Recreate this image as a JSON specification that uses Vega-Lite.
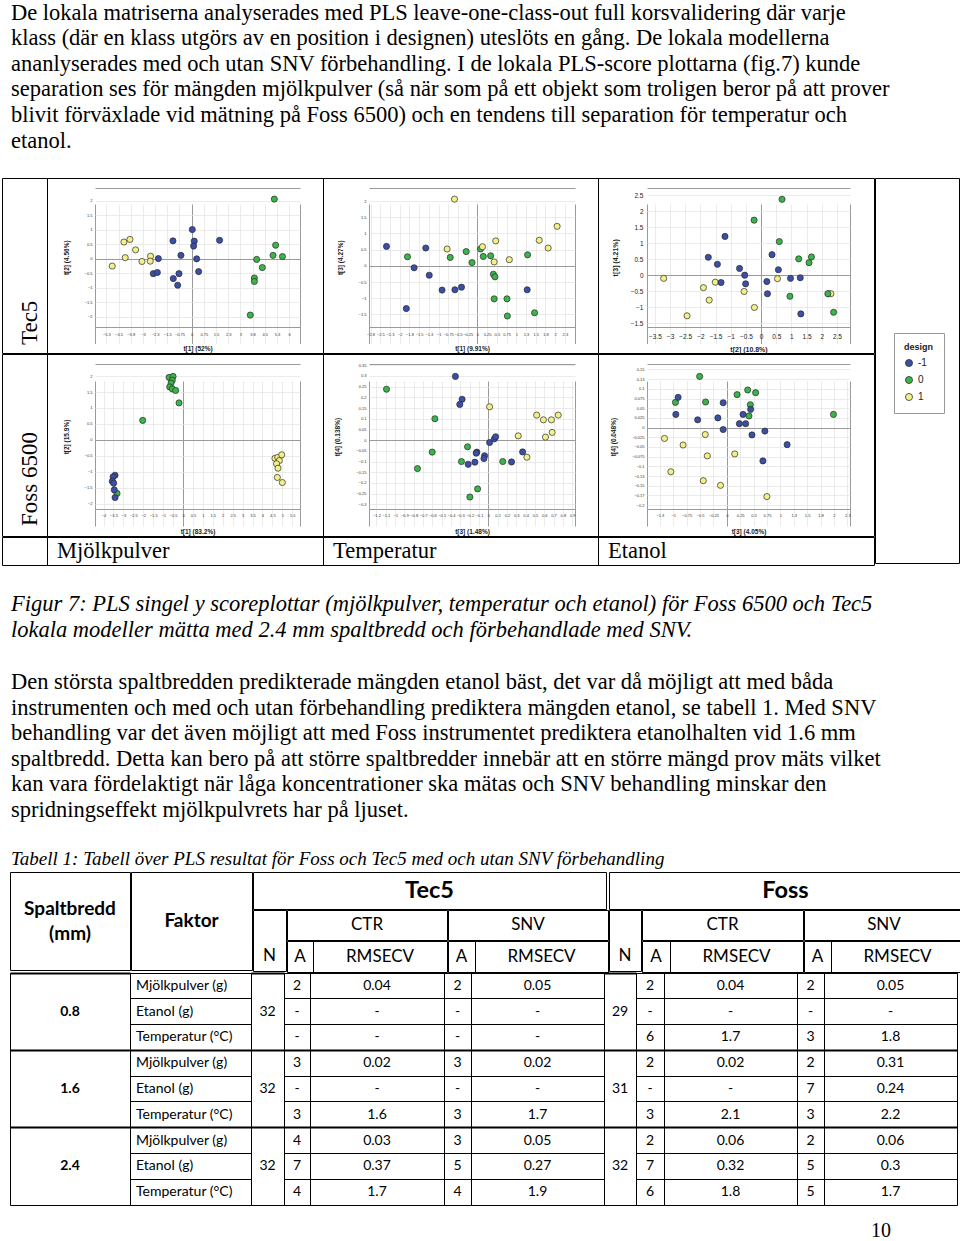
{
"$schema":"https://vega.github.io/schema/vega-lite/v6.json",
"padding":{"left":1,"top":0,"right":0,"bottom":0},
"background":"#ffffff",
"config":{"view":{"stroke":null},"font":"Liberation Sans",
 "legend":{"titleFont":"Liberation Sans","titleFontSize":9,"titleFontWeight":"bold","titleColor":"#222","labelFont":"Liberation Sans","labelFontSize":10,"labelColor":"#222","symbolType":"circle","symbolSize":50,"symbolStrokeColor":"#333","symbolStrokeWidth":0.8,"strokeColor":"#999","fillColor":"#ffffff","padding":10,"rowPadding":5,"titlePadding":6}},
"datasets":{
 "tab":[
  {"r":1,"faktor":"Mjölkpulver (g)","tCA":"2","tCR":"0.04","tSA":"2","tSR":"0.05","fCA":"2","fCR":"0.04","fSA":"2","fSR":"0.05"},
  {"r":2,"faktor":"Etanol (g)","tCA":"-","tCR":"-","tSA":"-","tSR":"-","fCA":"-","fCR":"-","fSA":"-","fSR":"-"},
  {"r":3,"faktor":"Temperatur (°C)","tCA":"-","tCR":"-","tSA":"-","tSR":"-","fCA":"6","fCR":"1.7","fSA":"3","fSR":"1.8"},
  {"r":4,"faktor":"Mjölkpulver (g)","tCA":"3","tCR":"0.02","tSA":"3","tSR":"0.02","fCA":"2","fCR":"0.02","fSA":"2","fSR":"0.31"},
  {"r":5,"faktor":"Etanol (g)","tCA":"-","tCR":"-","tSA":"-","tSR":"-","fCA":"-","fCR":"-","fSA":"7","fSR":"0.24"},
  {"r":6,"faktor":"Temperatur (°C)","tCA":"3","tCR":"1.6","tSA":"3","tSR":"1.7","fCA":"3","fCR":"2.1","fSA":"3","fSR":"2.2"},
  {"r":7,"faktor":"Mjölkpulver (g)","tCA":"4","tCR":"0.03","tSA":"3","tSR":"0.05","fCA":"2","fCR":"0.06","fSA":"2","fSR":"0.06"},
  {"r":8,"faktor":"Etanol (g)","tCA":"7","tCR":"0.37","tSA":"5","tSR":"0.27","fCA":"7","fCR":"0.32","fSA":"5","fSR":"0.3"},
  {"r":9,"faktor":"Temperatur (°C)","tCA":"4","tCR":"1.7","tSA":"4","tSR":"1.9","fCA":"6","fCR":"1.8","fSA":"5","fSR":"1.7"}
 ],
 "grp":[{"g":1,"sp":"0.8","tN":"32","fN":"29"},{"g":2,"sp":"1.6","tN":"32","fN":"31"},{"g":3,"sp":"2.4","tN":"32","fN":"32"}]
},
"spacing":0,
"bounds":"full",
"vconcat":[
{"width":940,"height":177,
 "data":{"values":[
  {"i":1,"t":"De lokala matriserna analyserades med PLS leave-one-class-out full korsvalidering där varje"},
  {"i":2,"t":"klass (där en klass utgörs av en position i designen) uteslöts en gång. De lokala modellerna"},
  {"i":3,"t":"ananlyserades med och utan SNV förbehandling. I de lokala PLS-score plottarna (fig.7) kunde"},
  {"i":4,"t":"separation ses för mängden mjölkpulver (så när som på ett objekt som troligen beror på att prover"},
  {"i":5,"t":"blivit förväxlade vid mätning på Foss 6500) och en tendens till separation för temperatur och"},
  {"i":6,"t":"etanol."}]},
 "mark":{"type":"text","align":"left","baseline":"middle","font":"Liberation Serif","fontSize":22.5,"dx":9,"color":"#000"},
 "encoding":{"x":{"datum":0,"type":"quantitative","scale":{"domain":[0,1]},"axis":null},
  "y":{"field":"i","type":"ordinal","scale":{"type":"point","range":[12.5,140.5],"padding":0},"axis":null},
  "text":{"field":"t"}}},
{"hconcat":[
 {"vconcat":[
  {"hconcat":[
   {"width":45,"height":175,"view":{"stroke":"#000","strokeWidth":1},"data":{"values":[{"t":"Tec5"}]},
    "mark":{"type":"text","angle":270,"align":"left","baseline":"middle","font":"Liberation Serif","fontSize":23,"dx":8,"dy":5,"color":"#000"},
    "encoding":{"y":{"datum":0,"type":"quantitative","scale":{"domain":[0,1]},"axis":null},"text":{"field":"t"}}},
   {"width":276,"height":175,"view":{"stroke":"#000","strokeWidth":1},
    "data":{"values":[{"x":-4.89,"y":-0.26,"d":1},{"x":-4.17,"y":0.57,"d":1},{"x":-3.8,"y":0.66,"d":1},{"x":-4.09,"y":0.03,"d":1},{"x":-3.45,"y":0.3,"d":1},{"x":-3.06,"y":-0.1,"d":1},{"x":-2.53,"y":0.08,"d":1},{"x":-2.55,"y":-0.09,"d":1},
     {"x":-2.05,"y":0,"d":-1},{"x":-2.36,"y":-0.52,"d":-1},{"x":-2.11,"y":-0.48,"d":-1},{"x":-1.13,"y":-0.69,"d":-1},{"x":-0.86,"y":-0.92,"d":-1},{"x":-0.78,"y":-0.52,"d":-1},{"x":-0.66,"y":0.11,"d":-1},{"x":-1.15,"y":0.61,"d":-1},{"x":0.04,"y":1,"d":-1},{"x":0.16,"y":0.6,"d":-1},{"x":0.12,"y":0.43,"d":-1},{"x":0.31,"y":-0.01,"d":-1},{"x":0.43,"y":-0.45,"d":-1},{"x":1.72,"y":0.63,"d":-1},
     {"x":5.09,"y":2.05,"d":0},{"x":5.17,"y":0.46,"d":0},{"x":5.01,"y":0.11,"d":0},{"x":5.59,"y":0.07,"d":0},{"x":4,"y":-0.03,"d":0},{"x":4.35,"y":-0.31,"d":0},{"x":3.86,"y":-0.67,"d":0},{"x":3.86,"y":-0.79,"d":0},{"x":3.61,"y":-1.95,"d":0}]},
    "mark":{"type":"circle","size":38,"opacity":1,"stroke":"#2a2a2a","strokeWidth":0.7},
    "encoding":{
     "x":{"field":"x","type":"quantitative","scale":{"domain":[-5.95,6.67],"range":[48,253],"nice":false,"zero":false},
      "axis":{"title":"t[1] (52%)","values":[-5.95,-5.25,-4.5,-3.75,-3,-2.25,-1.5,-0.75,0,0.75,1.5,2.25,3,3.75,4.5,5.25,6,6.67],"format":"~g","labelExpr":"datum.value === -5.95 || datum.value === 6.67 ? '' : datum.label","offset":-26,"domain":false,"ticks":false,"labelFontSize":4,"labelPadding":5,"labelColor":"#333","labelOverlap":false,"labelFlush":false,"grid":true,"gridColor":{"condition":{"test":"datum.value === 0 || datum.value === -5.95 || datum.value === 6.67","value":"#9a9a9a"},"value":"#e2e2e2"},"gridWidth":{"condition":{"test":"datum.value === 0 || datum.value === -5.95 || datum.value === 6.67","value":1},"value":0.7},"titleFontSize":6.5,"titleFontWeight":"bold","titleColor":"#222","titlePadding":9}},
     "y":{"field":"y","type":"quantitative","scale":{"domain":[-2.36,2.45],"range":[149,9.5],"nice":false,"zero":false},
      "axis":{"title":"t[2] (4.56%)","values":[-2.36,-2,-1.5,-1,-0.5,0,0.5,1,1.5,2,2.45],"format":"~g","labelExpr":"datum.value === -2.36 || datum.value === 2.45 ? '' : datum.label","offset":-48,"domain":false,"ticks":false,"labelFontSize":4,"labelPadding":3,"labelColor":"#333","labelOverlap":false,"labelFlush":false,"grid":true,"gridColor":{"condition":{"test":"datum.value === 0 || datum.value === -2.36 || datum.value === 2.45","value":"#9a9a9a"},"value":"#e2e2e2"},"gridWidth":{"condition":{"test":"datum.value === 0 || datum.value === -2.36 || datum.value === 2.45","value":1},"value":0.7},"titleFontSize":6.5,"titleFontWeight":"bold","titleColor":"#222","titlePadding":15}},
     "color":{"field":"d","type":"nominal","scale":{"domain":[-1,0,1],"range":["#3a4fa5","#3bb44a","#f3f089"]},"legend":{"title":"design","orient":"none","legendX":892,"legendY":333}}}},
   {"width":275,"height":175,"view":{"stroke":"#000","strokeWidth":1},
    "data":{"values":[{"x":-2.34,"y":0.6,"d":-1},{"x":-1.33,"y":0.55,"d":-1},{"x":-1.63,"y":-0.06,"d":-1},{"x":-1.24,"y":-0.29,"d":-1},{"x":-1.83,"y":-1.32,"d":-1},{"x":-0.91,"y":-0.75,"d":-1},{"x":-0.58,"y":-0.74,"d":-1},{"x":-0.41,"y":-0.66,"d":-1},{"x":1.28,"y":-0.74,"d":-1},
     {"x":-1.8,"y":0.28,"d":0},{"x":-0.7,"y":0.26,"d":0},{"x":-0.29,"y":0.44,"d":0},{"x":-0.14,"y":0.1,"d":0},{"x":0.08,"y":0.52,"d":0},{"x":0.15,"y":0.29,"d":0},{"x":0.34,"y":0.31,"d":0},{"x":0.41,"y":-0.26,"d":0},{"x":0.45,"y":-0.34,"d":0},{"x":0.43,"y":-1.02,"d":0},{"x":0.76,"y":-1.02,"d":0},{"x":0.77,"y":-1.55,"d":0},{"x":1.29,"y":0.34,"d":0},{"x":1.47,"y":-1.45,"d":0},
     {"x":-0.59,"y":2.06,"d":1},{"x":-0.78,"y":0.52,"d":1},{"x":0.13,"y":0.59,"d":1},{"x":0.47,"y":0.77,"d":1},{"x":0.43,"y":0.12,"d":1},{"x":0.82,"y":0.19,"d":1},{"x":1.59,"y":0.79,"d":1},{"x":1.82,"y":0.55,"d":1},{"x":2.05,"y":1.22,"d":1}]},
    "mark":{"type":"circle","size":38,"opacity":1,"stroke":"#2a2a2a","strokeWidth":0.7},
    "encoding":{
     "x":{"field":"x","type":"quantitative","scale":{"domain":[-2.79,2.51],"range":[46,252],"nice":false,"zero":false},
      "axis":{"title":"t[1] (9.91%)","values":[-2.79,-2.75,-2.5,-2.25,-2,-1.75,-1.5,-1.25,-1,-0.75,-0.5,-0.25,0,0.25,0.5,0.75,1,1.25,1.5,1.75,2,2.25,2.51],"format":"~g","labelExpr":"datum.value === -2.79 || datum.value === 2.51 ? '' : datum.label","offset":-26,"domain":false,"ticks":false,"labelFontSize":4,"labelPadding":5,"labelColor":"#333","labelOverlap":false,"labelFlush":false,"grid":true,"gridColor":{"condition":{"test":"datum.value === 0 || datum.value === -2.79 || datum.value === 2.51","value":"#9a9a9a"},"value":"#e2e2e2"},"gridWidth":{"condition":{"test":"datum.value === 0 || datum.value === -2.79 || datum.value === 2.51","value":1},"value":0.7},"titleFontSize":6.5,"titleFontWeight":"bold","titleColor":"#222","titlePadding":9}},
     "y":{"field":"y","type":"quantitative","scale":{"domain":[-1.89,2.42],"range":[149,9.5],"nice":false,"zero":false},
      "axis":{"title":"t[3] (4.27%)","values":[-1.89,-1.5,-1,-0.5,0,0.5,1,1.5,2,2.42],"format":"~g","labelExpr":"datum.value === -1.89 || datum.value === 2.42 ? '' : datum.label","offset":-46,"domain":false,"ticks":false,"labelFontSize":4,"labelPadding":3,"labelColor":"#333","labelOverlap":false,"labelFlush":false,"grid":true,"gridColor":{"condition":{"test":"datum.value === 0 || datum.value === -1.89 || datum.value === 2.42","value":"#9a9a9a"},"value":"#e2e2e2"},"gridWidth":{"condition":{"test":"datum.value === 0 || datum.value === -1.89 || datum.value === 2.42","value":1},"value":0.7},"titleFontSize":6.5,"titleFontWeight":"bold","titleColor":"#222","titlePadding":15}},
     "color":{"field":"d","type":"nominal","scale":{"domain":[-1,0,1],"range":["#3a4fa5","#3bb44a","#f3f089"]},"legend":{"title":"design","orient":"none","legendX":892,"legendY":333}}}},
   {"width":276,"height":175,"view":{"stroke":"#000","strokeWidth":1},
    "data":{"values":[{"x":-3.21,"y":-0.09,"d":1},{"x":-2.44,"y":-1.26,"d":1},{"x":-1.9,"y":-0.38,"d":1},{"x":-1.71,"y":-0.77,"d":1},{"x":-1.51,"y":-0.21,"d":1},{"x":-0.56,"y":-0.5,"d":1},{"x":-0.22,"y":-1,"d":1},{"x":0.54,"y":-0.1,"d":1},{"x":2.22,"y":-0.57,"d":1},{"x":2.3,"y":-0.57,"d":1},
     {"x":-1.19,"y":1.22,"d":-1},{"x":-1.74,"y":0.57,"d":-1},{"x":-1.44,"y":0.35,"d":-1},{"x":-1.32,"y":-0.22,"d":-1},{"x":-0.71,"y":0.22,"d":-1},{"x":-0.54,"y":0.01,"d":-1},{"x":-0.51,"y":-0.26,"d":-1},{"x":0.19,"y":-0.19,"d":-1},{"x":0.21,"y":-0.57,"d":-1},{"x":0.36,"y":0.65,"d":-1},{"x":0.57,"y":0.18,"d":-1},{"x":0.97,"y":-0.09,"d":-1},{"x":1.29,"y":-0.07,"d":-1},{"x":1.31,"y":-1.2,"d":-1},
     {"x":-0.23,"y":1.73,"d":0},{"x":0.69,"y":2.38,"d":0},{"x":0.6,"y":1.06,"d":0},{"x":1.24,"y":0.52,"d":0},{"x":1.66,"y":0.58,"d":0},{"x":1.58,"y":0.4,"d":0},{"x":0.95,"y":-0.65,"d":0},{"x":2.2,"y":-0.57,"d":0},{"x":2.39,"y":-1.15,"d":0}]},
    "mark":{"type":"circle","size":38,"opacity":1,"stroke":"#2a2a2a","strokeWidth":0.7},
    "encoding":{
     "x":{"field":"x","type":"quantitative","scale":{"domain":[-3.76,2.93],"range":[49,252],"nice":false,"zero":false},
      "axis":{"title":"t[2] (10.8%)","values":[-3.76,-3.5,-3,-2.5,-2,-1.5,-1,-0.5,0,0.5,1,1.5,2,2.5,2.93],"format":"~g","labelExpr":"datum.value === -3.76 || datum.value === 2.93 ? '' : datum.label","offset":-26,"domain":false,"ticks":false,"labelFontSize":6.5,"labelPadding":6,"labelColor":"#222","labelOverlap":false,"labelFlush":false,"grid":true,"gridColor":{"condition":{"test":"datum.value === 0 || datum.value === -3.76 || datum.value === 2.93","value":"#9a9a9a"},"value":"#e2e2e2"},"gridWidth":{"condition":{"test":"datum.value === 0 || datum.value === -3.76 || datum.value === 2.93","value":1},"value":0.7},"titleFontSize":7,"titleFontWeight":"bold","titleColor":"#222","titlePadding":6}},
     "y":{"field":"y","type":"quantitative","scale":{"domain":[-1.61,2.75],"range":[149,9.5],"nice":false,"zero":false},
      "axis":{"title":"t[3] (4.21%)","values":[-1.61,-1.5,-1,-0.5,0,0.5,1,1.5,2,2.5,2.75],"format":"~g","labelExpr":"datum.value === -1.61 || datum.value === 2.75 ? '' : datum.label","offset":-49,"domain":false,"ticks":false,"labelFontSize":6.5,"labelPadding":4,"labelColor":"#222","labelOverlap":false,"labelFlush":false,"grid":true,"gridColor":{"condition":{"test":"datum.value === 0 || datum.value === -1.61 || datum.value === 2.75","value":"#9a9a9a"},"value":"#e2e2e2"},"gridWidth":{"condition":{"test":"datum.value === 0 || datum.value === -1.61 || datum.value === 2.75","value":1},"value":0.7},"titleFontSize":7,"titleFontWeight":"bold","titleColor":"#222","titlePadding":12}},
     "color":{"field":"d","type":"nominal","scale":{"domain":[-1,0,1],"range":["#3a4fa5","#3bb44a","#f3f089"]},"legend":{"title":"design","orient":"none","legendX":892,"legendY":333}}}}
  ],"spacing":0,"bounds":"flush"},
  {"hconcat":[
   {"width":45,"height":182,"view":{"stroke":"#000","strokeWidth":1},"data":{"values":[{"t":"Foss 6500"}]},
    "mark":{"type":"text","angle":270,"align":"left","baseline":"middle","font":"Liberation Serif","fontSize":23,"dx":10,"dy":5,"color":"#000"},
    "encoding":{"y":{"datum":0,"type":"quantitative","scale":{"domain":[0,1]},"axis":null},"text":{"field":"t"}}},
   {"width":276,"height":182,"view":{"stroke":"#000","strokeWidth":1},
    "data":{"values":[{"x":-0.7,"y":1.96,"d":0},{"x":-0.5,"y":1.99,"d":0},{"x":-0.54,"y":1.87,"d":0},{"x":-0.6,"y":1.78,"d":0},{"x":-0.67,"y":1.66,"d":0},{"x":-0.54,"y":1.6,"d":0},{"x":-0.37,"y":1.55,"d":0},{"x":-0.2,"y":1.16,"d":0},{"x":-2.03,"y":0.61,"d":0},{"x":-3.32,"y":-1.68,"d":0},
     {"x":-3.42,"y":-1.11,"d":-1},{"x":-3.52,"y":-1.16,"d":-1},{"x":-3.56,"y":-1.3,"d":-1},{"x":-3.49,"y":-1.36,"d":-1},{"x":-3.46,"y":-1.57,"d":-1},{"x":-3.42,"y":-1.81,"d":-1},
     {"x":4.63,"y":-0.58,"d":1},{"x":4.77,"y":-0.55,"d":1},{"x":4.97,"y":-0.47,"d":1},{"x":4.85,"y":-0.65,"d":1},{"x":4.71,"y":-0.75,"d":1},{"x":4.78,"y":-0.89,"d":1},{"x":4.75,"y":-1.18,"d":1},{"x":5,"y":-1.34,"d":1}]},
    "mark":{"type":"circle","size":38,"opacity":1,"stroke":"#2a2a2a","strokeWidth":0.7},
    "encoding":{
     "x":{"field":"x","type":"quantitative","scale":{"domain":[-4.43,5.89],"range":[48,253],"nice":false,"zero":false},
      "axis":{"title":"t[1] (83.2%)","values":[-4.43,-4,-3.5,-3,-2.5,-2,-1.5,-1,-0.5,0,0.5,1,1.5,2,2.5,3,3.5,4,4.5,5,5.5,5.89],"format":"~g","labelExpr":"datum.value === -4.43 || datum.value === 5.89 ? '' : datum.label","offset":-27,"domain":false,"ticks":false,"labelFontSize":4,"labelPadding":4,"labelColor":"#333","labelOverlap":false,"labelFlush":false,"grid":true,"gridColor":{"condition":{"test":"datum.value === 0 || datum.value === -4.43 || datum.value === 5.89","value":"#9a9a9a"},"value":"#e2e2e2"},"gridWidth":{"condition":{"test":"datum.value === 0 || datum.value === -4.43 || datum.value === 5.89","value":1},"value":0.7},"titleFontSize":6.5,"titleFontWeight":"bold","titleColor":"#222","titlePadding":11}},
     "y":{"field":"y","type":"quantitative","scale":{"domain":[-2.17,2.38],"range":[155,10],"nice":false,"zero":false},
      "axis":{"title":"t[2] (15.9%)","values":[-2.17,-2,-1.5,-1,-0.5,0,0.5,1,1.5,2,2.38],"format":"~g","labelExpr":"datum.value === -2.17 || datum.value === 2.38 ? '' : datum.label","offset":-48,"domain":false,"ticks":false,"labelFontSize":4,"labelPadding":3,"labelColor":"#333","labelOverlap":false,"labelFlush":false,"grid":true,"gridColor":{"condition":{"test":"datum.value === 0 || datum.value === -2.17 || datum.value === 2.38","value":"#9a9a9a"},"value":"#e2e2e2"},"gridWidth":{"condition":{"test":"datum.value === 0 || datum.value === -2.17 || datum.value === 2.38","value":1},"value":0.7},"titleFontSize":6.5,"titleFontWeight":"bold","titleColor":"#222","titlePadding":15}},
     "color":{"field":"d","type":"nominal","scale":{"domain":[-1,0,1],"range":["#3a4fa5","#3bb44a","#f3f089"]},"legend":{"title":"design","orient":"none","legendX":892,"legendY":333}}}},
   {"width":275,"height":182,"view":{"stroke":"#000","strokeWidth":1},
    "data":{"values":[{"x":-0.353,"y":0.298,"d":-1},{"x":-0.281,"y":0.191,"d":-1},{"x":-0.306,"y":0.167,"d":-1},{"x":-0.123,"y":-0.056,"d":-1},{"x":-0.13,"y":-0.061,"d":-1},{"x":-0.04,"y":-0.073,"d":-1},{"x":-0.047,"y":-0.086,"d":-1},{"x":-0.144,"y":-0.103,"d":-1},{"x":-0.216,"y":-0.113,"d":-1},{"x":0.014,"y":-0.011,"d":-1},{"x":0.065,"y":0.006,"d":-1},{"x":0.079,"y":0.016,"d":-1},{"x":0.249,"y":-0.102,"d":-1},{"x":0.368,"y":-0.055,"d":-1},
     {"x":-1.092,"y":0.238,"d":0},{"x":-0.573,"y":0.1,"d":0},{"x":-0.602,"y":-0.056,"d":0},{"x":-0.76,"y":-0.133,"d":0},{"x":-0.223,"y":-0.031,"d":0},{"x":-0.288,"y":-0.1,"d":0},{"x":0.155,"y":-0.1,"d":0},{"x":-0.115,"y":-0.228,"d":0},{"x":-0.198,"y":-0.266,"d":0},
     {"x":0.014,"y":0.156,"d":1},{"x":0.519,"y":0.117,"d":1},{"x":0.591,"y":0.095,"d":1},{"x":0.677,"y":0.095,"d":1},{"x":0.75,"y":0.117,"d":1},{"x":0.685,"y":0.036,"d":1},{"x":0.613,"y":0.014,"d":1},{"x":0.321,"y":0.02,"d":1},{"x":0.414,"y":-0.08,"d":1}]},
    "mark":{"type":"circle","size":38,"opacity":1,"stroke":"#2a2a2a","strokeWidth":0.7},
    "encoding":{
     "x":{"field":"x","type":"quantitative","scale":{"domain":[-1.28,0.93],"range":[46,252],"nice":false,"zero":false},
      "axis":{"title":"t[3] (1.48%)","values":[-1.28,-1.2,-1.1,-1,-0.9,-0.8,-0.7,-0.6,-0.5,-0.4,-0.3,-0.2,-0.1,0,0.1,0.2,0.3,0.4,0.5,0.6,0.7,0.8,0.9,0.93],"format":"~g","labelExpr":"datum.value === -1.28 || datum.value === 0.93 ? '' : datum.label","offset":-27,"domain":false,"ticks":false,"labelFontSize":4,"labelPadding":4,"labelColor":"#333","labelOverlap":false,"labelFlush":false,"grid":true,"gridColor":{"condition":{"test":"datum.value === 0 || datum.value === -1.28 || datum.value === 0.93","value":"#9a9a9a"},"value":"#e2e2e2"},"gridWidth":{"condition":{"test":"datum.value === 0 || datum.value === -1.28 || datum.value === 0.93","value":1},"value":0.7},"titleFontSize":6.5,"titleFontWeight":"bold","titleColor":"#222","titlePadding":11}},
     "y":{"field":"y","type":"quantitative","scale":{"domain":[-0.322,0.356],"range":[155,10],"nice":false,"zero":false},
      "axis":{"title":"t[4] (0.138%)","values":[-0.322,-0.3,-0.25,-0.2,-0.15,-0.1,-0.05,0,0.05,0.1,0.15,0.2,0.25,0.3,0.35,0.356],"format":"~g","labelExpr":"datum.value === -0.322 || datum.value === 0.356 ? '' : datum.label","offset":-46,"domain":false,"ticks":false,"labelFontSize":4,"labelPadding":3,"labelColor":"#333","labelOverlap":false,"labelFlush":false,"grid":true,"gridColor":{"condition":{"test":"datum.value === 0 || datum.value === -0.322 || datum.value === 0.356","value":"#9a9a9a"},"value":"#e2e2e2"},"gridWidth":{"condition":{"test":"datum.value === 0 || datum.value === -0.322 || datum.value === 0.356","value":1},"value":0.7},"titleFontSize":6.5,"titleFontWeight":"bold","titleColor":"#222","titlePadding":15}},
     "color":{"field":"d","type":"nominal","scale":{"domain":[-1,0,1],"range":["#3a4fa5","#3bb44a","#f3f089"]},"legend":{"title":"design","orient":"none","legendX":892,"legendY":333}}}},
   {"width":276,"height":182,"view":{"stroke":"#000","strokeWidth":1},
    "data":{"values":[{"x":-0.507,"y":0.132,"d":0},{"x":-0.959,"y":0.065,"d":0},{"x":-0.396,"y":0.066,"d":0},{"x":0.192,"y":0.085,"d":0},{"x":0.39,"y":0.097,"d":0},{"x":0.538,"y":0.09,"d":0},{"x":0.439,"y":0.059,"d":0},{"x":0.414,"y":0.03,"d":0},{"x":1.991,"y":0.034,"d":0},
     {"x":-0.909,"y":0.078,"d":-1},{"x":-0.952,"y":0.034,"d":-1},{"x":-0.544,"y":0.02,"d":-1},{"x":-0.167,"y":0.025,"d":-1},{"x":-0.068,"y":0.064,"d":-1},{"x":-0.068,"y":-0.005,"d":-1},{"x":0.303,"y":0.034,"d":-1},{"x":0.235,"y":0.01,"d":-1},{"x":0.352,"y":0.01,"d":-1},{"x":0.445,"y":0.047,"d":-1},{"x":0.47,"y":-0.019,"d":-1},{"x":0.711,"y":-0.009,"d":-1},{"x":1.126,"y":-0.044,"d":-1},{"x":0.674,"y":-0.086,"d":-1},
     {"x":-1.163,"y":-0.028,"d":1},{"x":-0.816,"y":-0.045,"d":1},{"x":-0.402,"y":-0.018,"d":1},{"x":-0.365,"y":-0.073,"d":1},{"x":0.148,"y":-0.068,"d":1},{"x":-1.045,"y":-0.114,"d":1},{"x":-0.439,"y":-0.137,"d":1},{"x":-0.118,"y":-0.149,"d":1},{"x":0.748,"y":-0.178,"d":1}]},
    "mark":{"type":"circle","size":38,"opacity":1,"stroke":"#2a2a2a","strokeWidth":0.7},
    "encoding":{
     "x":{"field":"x","type":"quantitative","scale":{"domain":[-1.49,2.3],"range":[49,252],"nice":false,"zero":false},
      "axis":{"title":"t[3] (4.05%)","values":[-1.49,-1.25,-1,-0.75,-0.5,-0.25,0,0.25,0.5,0.75,1,1.25,1.5,1.75,2,2.25,2.3],"format":"~g","labelExpr":"datum.value === -1.49 || datum.value === 2.3 ? '' : datum.label","offset":-27,"domain":false,"ticks":false,"labelFontSize":4,"labelPadding":4,"labelColor":"#333","labelOverlap":false,"labelFlush":false,"grid":true,"gridColor":{"condition":{"test":"datum.value === 0 || datum.value === -1.49 || datum.value === 2.3","value":"#9a9a9a"},"value":"#e2e2e2"},"gridWidth":{"condition":{"test":"datum.value === 0 || datum.value === -1.49 || datum.value === 2.3","value":1},"value":0.7},"titleFontSize":6.5,"titleFontWeight":"bold","titleColor":"#222","titlePadding":11}},
     "y":{"field":"y","type":"quantitative","scale":{"domain":[-0.21,0.164],"range":[155,10],"nice":false,"zero":false},
      "axis":{"title":"t[4] (0.048%)","values":[-0.21,-0.2,-0.175,-0.15,-0.125,-0.1,-0.075,-0.05,-0.025,0,0.025,0.05,0.075,0.1,0.125,0.15,0.164],"format":"~g","labelExpr":"datum.value === -0.21 || datum.value === 0.164 ? '' : datum.label","offset":-49,"domain":false,"ticks":false,"labelFontSize":4,"labelPadding":3,"labelColor":"#333","labelOverlap":false,"labelFlush":false,"grid":true,"gridColor":{"condition":{"test":"datum.value === 0 || datum.value === -0.21 || datum.value === 0.164","value":"#9a9a9a"},"value":"#e2e2e2"},"gridWidth":{"condition":{"test":"datum.value === 0 || datum.value === -0.21 || datum.value === 0.164","value":1},"value":0.7},"titleFontSize":6.5,"titleFontWeight":"bold","titleColor":"#222","titlePadding":15}},
     "color":{"field":"d","type":"nominal","scale":{"domain":[-1,0,1],"range":["#3a4fa5","#3bb44a","#f3f089"]},"legend":{"title":"design","orient":"none","legendX":892,"legendY":333}}}}
  ],"spacing":0,"bounds":"flush"},
  {"hconcat":[
   {"width":45,"height":28,"view":{"stroke":"#000","strokeWidth":1},"data":{"values":[{}]},"mark":{"type":"text","text":""}},
   {"width":276,"height":28,"view":{"stroke":"#000","strokeWidth":1},"data":{"values":[{"t":"Mjölkpulver"}]},
    "mark":{"type":"text","align":"left","baseline":"middle","font":"Liberation Serif","fontSize":22.5,"dx":10,"color":"#000"},
    "encoding":{"x":{"datum":0,"type":"quantitative","scale":{"domain":[0,1]},"axis":null},"text":{"field":"t"}}},
   {"width":275,"height":28,"view":{"stroke":"#000","strokeWidth":1},"data":{"values":[{"t":"Temperatur"}]},
    "mark":{"type":"text","align":"left","baseline":"middle","font":"Liberation Serif","fontSize":22.5,"dx":10,"color":"#000"},
    "encoding":{"x":{"datum":0,"type":"quantitative","scale":{"domain":[0,1]},"axis":null},"text":{"field":"t"}}},
   {"width":276,"height":28,"view":{"stroke":"#000","strokeWidth":1},"data":{"values":[{"t":"Etanol"}]},
    "mark":{"type":"text","align":"left","baseline":"middle","font":"Liberation Serif","fontSize":22.5,"dx":10,"color":"#000"},
    "encoding":{"x":{"datum":0,"type":"quantitative","scale":{"domain":[0,1]},"axis":null},"text":{"field":"t"}}}
  ],"spacing":0,"bounds":"flush"}
 ],"spacing":-3,"bounds":"full"},
 {"width":84,"height":385,"view":{"stroke":"#000","strokeWidth":1},"data":{"values":[{}]},"mark":{"type":"text","text":""}}
],"spacing":-3,"bounds":"full"},
{"width":940,"height":91,
 "data":{"values":[
  {"i":1,"t":"Figur 7: PLS singel y scoreplottar (mjölkpulver, temperatur och etanol) för Foss 6500 och Tec5"},
  {"i":2,"t":"lokala modeller mätta med 2.4 mm spaltbredd och förbehandlade med SNV."}]},
 "mark":{"type":"text","align":"left","baseline":"middle","font":"Liberation Serif","fontSize":22.5,"fontStyle":"italic","dx":9,"color":"#000"},
 "encoding":{"x":{"datum":0,"type":"quantitative","scale":{"domain":[0,1]},"axis":null},
  "y":{"field":"i","type":"ordinal","scale":{"type":"point","range":[38,64],"padding":0},"axis":null},
  "text":{"field":"t"}}},
{"width":940,"height":190,
 "data":{"values":[
  {"i":1,"t":"Den största spaltbredden predikterade mängden etanol bäst, det var då möjligt att med båda"},
  {"i":2,"t":"instrumenten och med och utan förbehandling prediktera mängden etanol, se tabell 1. Med SNV"},
  {"i":3,"t":"behandling var det även möjligt att med Foss instrumentet prediktera etanolhalten vid 1.6 mm"},
  {"i":4,"t":"spaltbredd. Detta kan bero på att större spaltbredder innebär att en större mängd prov mäts vilket"},
  {"i":5,"t":"kan vara fördelaktigt när låga koncentrationer ska mätas och SNV behandling minskar den"},
  {"i":6,"t":"spridningseffekt mjölkpulvrets har på ljuset."}]},
 "mark":{"type":"text","align":"left","baseline":"middle","font":"Liberation Serif","fontSize":22.5,"dx":9,"color":"#000"},
 "encoding":{"x":{"datum":0,"type":"quantitative","scale":{"domain":[0,1]},"axis":null},
  "y":{"field":"i","type":"ordinal","scale":{"type":"point","range":[25,153],"padding":0},"axis":null},
  "text":{"field":"t"}}},
{"width":940,"height":24,
 "data":{"values":[{"t":"Tabell 1: Tabell över PLS resultat för Foss och Tec5 med och utan SNV förbehandling"}]},
 "mark":{"type":"text","align":"left","baseline":"middle","font":"Liberation Serif","fontSize":19,"fontStyle":"italic","dx":9,"color":"#000"},
 "encoding":{"x":{"datum":0,"type":"quantitative","scale":{"domain":[0,1]},"axis":null},"text":{"field":"t"}}},
{"hconcat":[
 {"width":7,"height":1,"data":{"values":[]},"mark":{"type":"text"}},
 {"vconcat":[
  {"hconcat":[
   {"width":120,"height":98,"view":{"stroke":"#000"},"data":{"values":[{"t":"Spaltbredd\n(mm)"}]},"mark":{"type":"text","font":"Lato","fontSize":19,"fontWeight":"bold","lineBreak":"\n","lineHeight":25,"dy":-12.5,"color":"#000"},"encoding":{"text":{"field":"t"}}},
   {"width":121,"height":98,"view":{"stroke":"#000"},"data":{"values":[{"t":"Faktor"}]},"mark":{"type":"text","font":"Lato","fontSize":19,"fontWeight":"bold","color":"#000"},"encoding":{"text":{"field":"t"}}},
   {"vconcat":[
    {"width":353,"height":37,"view":{"stroke":"#000"},"data":{"values":[{"t":"Tec5"}]},"mark":{"type":"text","font":"Lato","fontSize":23.5,"fontWeight":"bold","color":"#000"},"encoding":{"text":{"field":"t"}}},
    {"hconcat":[
     {"width":33,"height":61,"view":{"stroke":"#000"},"data":{"values":[{"t":"\nN"}]},"mark":{"type":"text","font":"Lato","fontSize":17,"lineBreak":"\n","lineHeight":15,"color":"#000"},"encoding":{"text":{"field":"t"}}},
     {"vconcat":[
      {"width":160,"height":30,"view":{"stroke":"#000"},"data":{"values":[{"t":"CTR"}]},"mark":{"type":"text","font":"Lato","fontSize":17,"color":"#000"},"encoding":{"text":{"field":"t"}}},
      {"hconcat":[
       {"width":26,"height":31,"view":{"stroke":"#000"},"data":{"values":[{"t":"A"}]},"mark":{"type":"text","font":"Lato","fontSize":17,"color":"#000"},"encoding":{"text":{"field":"t"}}},
       {"width":134,"height":31,"view":{"stroke":"#000"},"data":{"values":[{"t":"RMSECV"}]},"mark":{"type":"text","font":"Lato","fontSize":17,"color":"#000"},"encoding":{"text":{"field":"t"}}}
      ],"spacing":0,"bounds":"flush"}
     ],"spacing":-3,"bounds":"full"},
     {"vconcat":[
      {"width":160,"height":30,"view":{"stroke":"#000"},"data":{"values":[{"t":"SNV"}]},"mark":{"type":"text","font":"Lato","fontSize":17,"color":"#000"},"encoding":{"text":{"field":"t"}}},
      {"hconcat":[
       {"width":27,"height":31,"view":{"stroke":"#000"},"data":{"values":[{"t":"A"}]},"mark":{"type":"text","font":"Lato","fontSize":17,"color":"#000"},"encoding":{"text":{"field":"t"}}},
       {"width":133,"height":31,"view":{"stroke":"#000"},"data":{"values":[{"t":"RMSECV"}]},"mark":{"type":"text","font":"Lato","fontSize":17,"color":"#000"},"encoding":{"text":{"field":"t"}}}
      ],"spacing":0,"bounds":"flush"}
     ],"spacing":-3,"bounds":"full"}
    ],"spacing":-3,"bounds":"full"}
   ],"spacing":-3,"bounds":"full"},
   {"vconcat":[
    {"width":353,"height":37,"view":{"stroke":"#000"},"data":{"values":[{"t":"Foss"}]},"mark":{"type":"text","font":"Lato","fontSize":23.5,"fontWeight":"bold","color":"#000"},"encoding":{"text":{"field":"t"}}},
    {"hconcat":[
     {"width":32,"height":61,"view":{"stroke":"#000"},"data":{"values":[{"t":"\nN"}]},"mark":{"type":"text","font":"Lato","fontSize":17,"lineBreak":"\n","lineHeight":15,"color":"#000"},"encoding":{"text":{"field":"t"}}},
     {"vconcat":[
      {"width":161,"height":30,"view":{"stroke":"#000"},"data":{"values":[{"t":"CTR"}]},"mark":{"type":"text","font":"Lato","fontSize":17,"color":"#000"},"encoding":{"text":{"field":"t"}}},
      {"hconcat":[
       {"width":28,"height":31,"view":{"stroke":"#000"},"data":{"values":[{"t":"A"}]},"mark":{"type":"text","font":"Lato","fontSize":17,"color":"#000"},"encoding":{"text":{"field":"t"}}},
       {"width":133,"height":31,"view":{"stroke":"#000"},"data":{"values":[{"t":"RMSECV"}]},"mark":{"type":"text","font":"Lato","fontSize":17,"color":"#000"},"encoding":{"text":{"field":"t"}}}
      ],"spacing":0,"bounds":"flush"}
     ],"spacing":-3,"bounds":"full"},
     {"vconcat":[
      {"width":160,"height":30,"view":{"stroke":"#000"},"data":{"values":[{"t":"SNV"}]},"mark":{"type":"text","font":"Lato","fontSize":17,"color":"#000"},"encoding":{"text":{"field":"t"}}},
      {"hconcat":[
       {"width":27,"height":31,"view":{"stroke":"#000"},"data":{"values":[{"t":"A"}]},"mark":{"type":"text","font":"Lato","fontSize":17,"color":"#000"},"encoding":{"text":{"field":"t"}}},
       {"width":133,"height":31,"view":{"stroke":"#000"},"data":{"values":[{"t":"RMSECV"}]},"mark":{"type":"text","font":"Lato","fontSize":17,"color":"#000"},"encoding":{"text":{"field":"t"}}}
      ],"spacing":0,"bounds":"flush"}
     ],"spacing":-3,"bounds":"full"}
    ],"spacing":-3,"bounds":"full"}
   ],"spacing":-3,"bounds":"full"}
  ],"spacing":-3,"bounds":"full"},
  {"hconcat":[
   {"width":120,"height":232,"view":{"stroke":"#000"},"data":{"name":"grp"},"mark":{"type":"text","font":"Lato","fontSize":14,"fontWeight":"bold","color":"#000"},
    "encoding":{"y":{"field":"g","type":"ordinal","bandPosition":0.5,"scale":{"type":"band","paddingInner":0,"paddingOuter":0},"axis":{"grid":true,"gridColor":"#000","gridWidth":2,"bandPosition":0,"labels":false,"ticks":false,"domain":false,"title":null}},"text":{"field":"sp"}}},
   {"width":121,"height":232,"view":{"stroke":"#000"},"data":{"name":"tab"},"mark":{"type":"text","font":"Lato","fontSize":14,"align":"left","dx":6,"color":"#000"},
    "encoding":{"x":{"datum":0,"type":"quantitative","scale":{"domain":[0,1]},"axis":null},"y":{"field":"r","type":"ordinal","bandPosition":0.5,"scale":{"type":"band","paddingInner":0,"paddingOuter":0},"axis":{"grid":true,"gridColor":"#000","gridWidth":{"condition":{"test":"datum.value === 4 || datum.value === 7","value":2},"value":1},"bandPosition":0,"labels":false,"ticks":false,"domain":false,"title":null}},"text":{"field":"faktor"}}},
   {"width":33,"height":232,"view":{"stroke":"#000"},"data":{"name":"grp"},"mark":{"type":"text","font":"Lato","fontSize":14,"color":"#000"},
    "encoding":{"y":{"field":"g","type":"ordinal","bandPosition":0.5,"scale":{"type":"band","paddingInner":0,"paddingOuter":0},"axis":{"grid":true,"gridColor":"#000","gridWidth":2,"bandPosition":0,"labels":false,"ticks":false,"domain":false,"title":null}},"text":{"field":"tN"}}},
   {"width":26,"height":232,"view":{"stroke":"#000"},"data":{"name":"tab"},"mark":{"type":"text","font":"Lato","fontSize":14,"color":"#000"},
    "encoding":{"y":{"field":"r","type":"ordinal","bandPosition":0.5,"scale":{"type":"band","paddingInner":0,"paddingOuter":0},"axis":{"grid":true,"gridColor":"#000","gridWidth":{"condition":{"test":"datum.value === 4 || datum.value === 7","value":2},"value":1},"bandPosition":0,"labels":false,"ticks":false,"domain":false,"title":null}},"text":{"field":"tCA"}}},
   {"width":134,"height":232,"view":{"stroke":"#000"},"data":{"name":"tab"},"mark":{"type":"text","font":"Lato","fontSize":14,"color":"#000"},
    "encoding":{"y":{"field":"r","type":"ordinal","bandPosition":0.5,"scale":{"type":"band","paddingInner":0,"paddingOuter":0},"axis":{"grid":true,"gridColor":"#000","gridWidth":{"condition":{"test":"datum.value === 4 || datum.value === 7","value":2},"value":1},"bandPosition":0,"labels":false,"ticks":false,"domain":false,"title":null}},"text":{"field":"tCR"}}},
   {"width":27,"height":232,"view":{"stroke":"#000"},"data":{"name":"tab"},"mark":{"type":"text","font":"Lato","fontSize":14,"color":"#000"},
    "encoding":{"y":{"field":"r","type":"ordinal","bandPosition":0.5,"scale":{"type":"band","paddingInner":0,"paddingOuter":0},"axis":{"grid":true,"gridColor":"#000","gridWidth":{"condition":{"test":"datum.value === 4 || datum.value === 7","value":2},"value":1},"bandPosition":0,"labels":false,"ticks":false,"domain":false,"title":null}},"text":{"field":"tSA"}}},
   {"width":133,"height":232,"view":{"stroke":"#000"},"data":{"name":"tab"},"mark":{"type":"text","font":"Lato","fontSize":14,"color":"#000"},
    "encoding":{"y":{"field":"r","type":"ordinal","bandPosition":0.5,"scale":{"type":"band","paddingInner":0,"paddingOuter":0},"axis":{"grid":true,"gridColor":"#000","gridWidth":{"condition":{"test":"datum.value === 4 || datum.value === 7","value":2},"value":1},"bandPosition":0,"labels":false,"ticks":false,"domain":false,"title":null}},"text":{"field":"tSR"}}},
   {"width":32,"height":232,"view":{"stroke":"#000"},"data":{"name":"grp"},"mark":{"type":"text","font":"Lato","fontSize":14,"color":"#000"},
    "encoding":{"y":{"field":"g","type":"ordinal","bandPosition":0.5,"scale":{"type":"band","paddingInner":0,"paddingOuter":0},"axis":{"grid":true,"gridColor":"#000","gridWidth":2,"bandPosition":0,"labels":false,"ticks":false,"domain":false,"title":null}},"text":{"field":"fN"}}},
   {"width":28,"height":232,"view":{"stroke":"#000"},"data":{"name":"tab"},"mark":{"type":"text","font":"Lato","fontSize":14,"color":"#000"},
    "encoding":{"y":{"field":"r","type":"ordinal","bandPosition":0.5,"scale":{"type":"band","paddingInner":0,"paddingOuter":0},"axis":{"grid":true,"gridColor":"#000","gridWidth":{"condition":{"test":"datum.value === 4 || datum.value === 7","value":2},"value":1},"bandPosition":0,"labels":false,"ticks":false,"domain":false,"title":null}},"text":{"field":"fCA"}}},
   {"width":133,"height":232,"view":{"stroke":"#000"},"data":{"name":"tab"},"mark":{"type":"text","font":"Lato","fontSize":14,"color":"#000"},
    "encoding":{"y":{"field":"r","type":"ordinal","bandPosition":0.5,"scale":{"type":"band","paddingInner":0,"paddingOuter":0},"axis":{"grid":true,"gridColor":"#000","gridWidth":{"condition":{"test":"datum.value === 4 || datum.value === 7","value":2},"value":1},"bandPosition":0,"labels":false,"ticks":false,"domain":false,"title":null}},"text":{"field":"fCR"}}},
   {"width":27,"height":232,"view":{"stroke":"#000"},"data":{"name":"tab"},"mark":{"type":"text","font":"Lato","fontSize":14,"color":"#000"},
    "encoding":{"y":{"field":"r","type":"ordinal","bandPosition":0.5,"scale":{"type":"band","paddingInner":0,"paddingOuter":0},"axis":{"grid":true,"gridColor":"#000","gridWidth":{"condition":{"test":"datum.value === 4 || datum.value === 7","value":2},"value":1},"bandPosition":0,"labels":false,"ticks":false,"domain":false,"title":null}},"text":{"field":"fSA"}}},
   {"width":133,"height":232,"view":{"stroke":"#000"},"data":{"name":"tab"},"mark":{"type":"text","font":"Lato","fontSize":14,"color":"#000"},
    "encoding":{"y":{"field":"r","type":"ordinal","bandPosition":0.5,"scale":{"type":"band","paddingInner":0,"paddingOuter":0},"axis":{"grid":true,"gridColor":"#000","gridWidth":{"condition":{"test":"datum.value === 4 || datum.value === 7","value":2},"value":1},"bandPosition":0,"labels":false,"ticks":false,"domain":false,"title":null}},"text":{"field":"fSR"}}}
  ],"spacing":0,"bounds":"flush"}
 ],"spacing":-2.5,"bounds":"full"}
],"spacing":0,"bounds":"full"},
{"width":889,"height":50,"data":{"values":[{"t":"10"}]},
 "mark":{"type":"text","align":"right","font":"Liberation Serif","fontSize":20,"color":"#000"},
 "encoding":{"x":{"datum":1,"type":"quantitative","scale":{"domain":[0,1]},"axis":null},"text":{"field":"t"}}}
]
}
